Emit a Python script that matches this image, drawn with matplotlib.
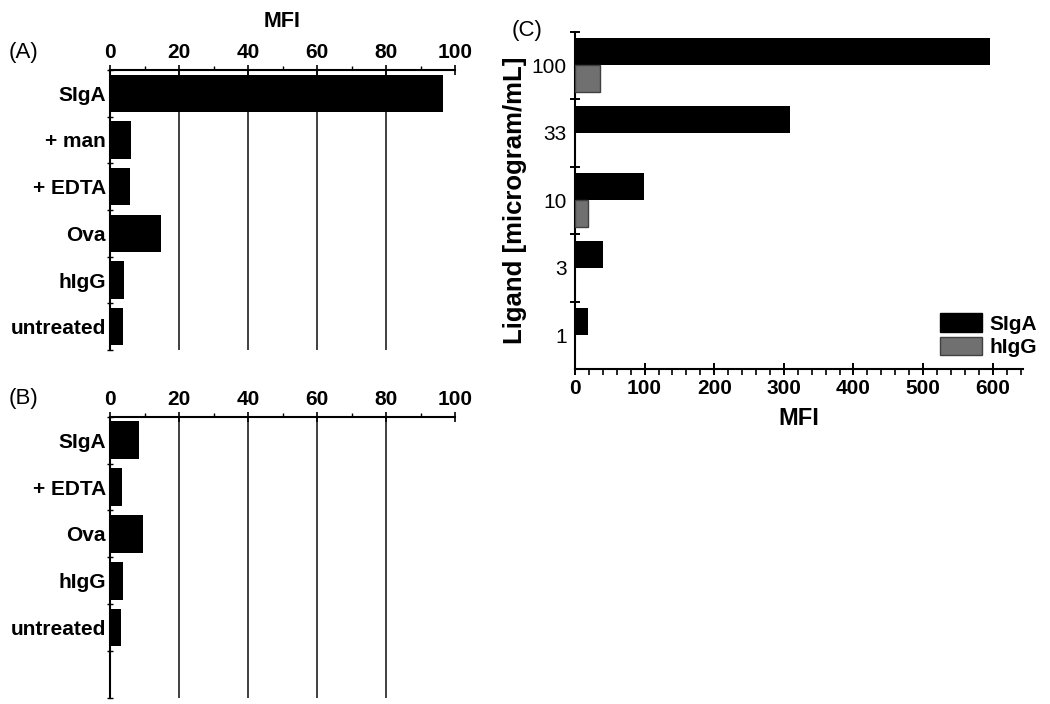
import numpy as np
import matplotlib
matplotlib.use('Agg')
import matplotlib.pyplot as plt
from matplotlib.patches import Patch

plt.rcParams['font.family'] = ['Liberation Sans', 'DejaVu Sans']

# Panel A data
cats_a = ['SIgA', '+ man', '+ EDTA', 'Ova', 'hIgG', 'untreated']
vals_a = [96.5, 6.1, 5.9, 14.8, 4.0, 3.8]

# Panel B data
cats_b = ['SIgA', '+ EDTA', 'Ova', 'hIgG', 'untreated']
vals_b = [8.5, 3.6, 9.5, 3.9, 3.3]

# Panel C data
ligand = ['1', '3', '10', '33', '100']
siga_c = [18, 40, 99, 309, 596]
higg_c = [0, 0, 18, 0, 36]

TICK_FONT = dict(fontsize=15, fontweight='bold')


def panel_ab(ax, cats, vals, nslots):
    y = np.arange(len(cats))
    ax.barh(y, vals, height=0.8, color='black', zorder=3)
    ax.set_xlim(0, 100)
    ax.set_ylim(nslots - 0.5, -0.5)
    ax.xaxis.tick_top()
    ax.set_xticks([0, 20, 40, 60, 80, 100])
    ax.set_xticks(np.arange(10, 100, 20), minor=True)
    ax.set_xticklabels(['0', '20', '40', '60', '80', '100'], **TICK_FONT)
    ax.tick_params(axis='x', which='major', direction='inout', length=7, width=1.2, pad=2)
    ax.tick_params(axis='x', which='minor', direction='out', length=3, width=1)
    ax.set_yticks(y)
    ax.set_yticklabels(cats, **TICK_FONT)
    ax.set_yticks(np.arange(-0.5, nslots, 1.0), minor=True)
    ax.tick_params(axis='y', which='major', length=0, pad=3)
    ax.tick_params(axis='y', which='minor', direction='inout', length=5, width=1)
    for s in ['right', 'bottom']:
        ax.spines[s].set_visible(False)
    for s in ['top', 'left']:
        ax.spines[s].set_linewidth(1.5)
    for xv in [20, 40, 60, 80]:
        ax.axvline(xv, color='#404040', lw=1.4, zorder=1)


fig = plt.figure(figsize=(10.5, 7.04), dpi=100)

ax_a = fig.add_axes([0.1048, 0.5028, 0.3286, 0.3978])
panel_ab(ax_a, cats_a, vals_a, 6)
ax_a.set_xlabel('MFI', fontsize=15.5, fontweight='bold', labelpad=12)
ax_a.xaxis.set_label_position('top')
fig.text(0.008, 0.925, '(A)', fontsize=16, va='center', ha='left')

ax_b = fig.add_axes([0.1048, 0.0085, 0.3286, 0.3996])
panel_ab(ax_b, cats_b, vals_b, 6)
fig.text(0.008, 0.434, '(B)', fontsize=16, va='center', ha='left')

# Panel C
ax_c = fig.add_axes([0.5476, 0.4759, 0.4264, 0.4791])
yc = np.arange(len(ligand))
ax_c.barh(yc + 0.2, siga_c, height=0.4, color='black', zorder=3)
idx = [i for i, v in enumerate(higg_c) if v > 0]
ax_c.barh(yc[idx] - 0.2, [higg_c[i] for i in idx], height=0.4, color='#707070',
          edgecolor='#404040', lw=1, zorder=3)
ax_c.set_xlim(0, 643)
ax_c.set_ylim(-0.5, 4.5)
ax_c.set_xticks(np.arange(0, 601, 100))
ax_c.set_xticks(np.arange(20, 643, 20), minor=True)
ax_c.set_xticklabels([str(v) for v in range(0, 601, 100)], **TICK_FONT)
ax_c.tick_params(axis='x', which='major', direction='inout', length=8, width=1.4)
ax_c.tick_params(axis='x', which='minor', direction='out', length=4, width=1.2)
ax_c.set_yticks(yc)
ax_c.set_yticklabels(ligand, fontsize=15)
ax_c.set_yticks(np.arange(0.5, 4.6, 1.0), minor=True)
ax_c.tick_params(axis='y', which='major', length=0, pad=6)
ax_c.tick_params(axis='y', which='minor', direction='inout', length=7, width=1.4)
for s in ['right', 'top']:
    ax_c.spines[s].set_visible(False)
for s in ['left', 'bottom']:
    ax_c.spines[s].set_linewidth(1.5)
ax_c.set_xlabel('MFI', fontsize=17, fontweight='bold', labelpad=6)
ax_c.set_ylabel('Ligand [microgram/mL]', fontsize=18.5, fontweight='bold', labelpad=3)
handles = [Patch(facecolor='black', edgecolor='black', label='SIgA'),
           Patch(facecolor='#707070', edgecolor='#404040', label='hIgG')]
ax_c.legend(handles=handles, loc='lower left', bbox_to_anchor=(0.815, 0.035),
            frameon=False, handlelength=2.0, handleheight=1.0,
            prop=dict(size=15, weight='bold'), labelspacing=0.15,
            handletextpad=0.4, borderpad=0, borderaxespad=0)
fig.text(0.487, 0.957, '(C)', fontsize=16, va='center', ha='left')

fig.savefig('out.png', dpi=100)
